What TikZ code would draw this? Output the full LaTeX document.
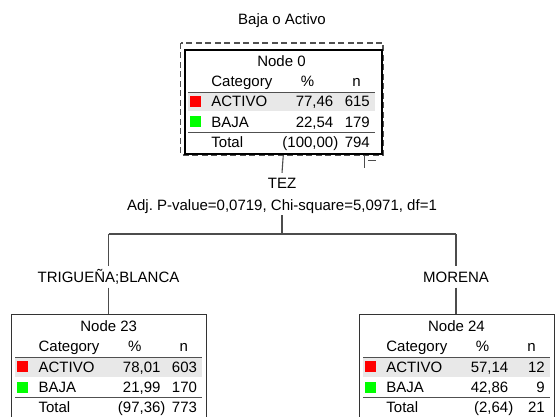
\documentclass[tikz,border=0pt]{standalone}
\usepackage{fontspec}
\setmainfont{Liberation Sans}
\frenchspacing
\definecolor{rowshade}{HTML}{E8E8E8}
\definecolor{catred}{HTML}{FF0000}
\definecolor{catgreen}{HTML}{00FF00}
\definecolor{rulegray}{HTML}{505050}
\definecolor{wiregray}{HTML}{4C4C4C}
\definecolor{boxgray}{HTML}{333333}

\tikzset{
  txt/.style={font=\fontsize{15}{18}\selectfont, inner sep=0pt},
  wire/.style={draw=wiregray, line width=1.1pt},
  caplabel/.style={txt, text height=10.7pt, text depth=0pt, inner ysep=5pt},
  leafbox/.style={draw=boxgray, line width=1pt, minimum width=195pt,
                  minimum height=104pt, inner sep=0pt, anchor=north west},
  rootbox/.style={draw=black, line width=2.5pt, minimum width=197pt,
                  minimum height=104pt, inner sep=0pt, anchor=north west},
}

% Category table drawn inside an already placed box node #1
% #2 title, #3/#4 ACTIVO % and n, #5/#6 BAJA % and n, #7/#8 total % and n
\newcommand\cattable[8]{%
  \begin{scope}[shift={(#1.north west)}]
    \fill[rowshade] (4.5,43) rectangle (191,62.4);
    \draw[rulegray, line width=0.9pt] (4.5,43) -- (191,43);
    \draw[rulegray, line width=0.9pt] (4.5,83.4) -- (191,83.4);
    \fill[catred] (6,47) rectangle (17,58);
    \fill[catgreen] (6,67.5) rectangle (17,78.5);
    \node[txt, anchor=base] (#1-title) at (98,17.1) {#2};
    \node[txt, anchor=base west] (#1-cat) at (27.7,37.1) {Category};
    \node[txt, anchor=base] (#1-pcthead) at (124,37.1) {\%};
    \node[txt, anchor=base] (#1-nhead) at (173,37.1) {n};
    \node[txt, anchor=base west] (#1-a) at (27.7,57.8) {ACTIVO};
    \node[txt, anchor=base east] (#1-apct) at (150,57.8) {#3};
    \node[txt, anchor=base east] (#1-an) at (186.5,57.8) {#4};
    \node[txt, anchor=base west] (#1-b) at (27.7,78.4) {BAJA};
    \node[txt, anchor=base east] (#1-bpct) at (150,78.4) {#5};
    \node[txt, anchor=base east] (#1-bn) at (186.5,78.4) {#6};
    \node[txt, anchor=base west] (#1-t) at (27.7,98.4) {Total};
    \node[txt, anchor=base east] (#1-tpct) at (150,98.4) {(#7\rlap{)}};
    \node[txt, anchor=base east] (#1-tn) at (186.5,98.4) {#8};
  \end{scope}}

\begin{document}
\begin{tikzpicture}[x=1pt, y=-1pt]
  \clip (0,0) rectangle (557,417);
  \fill[white] (0,0) rectangle (557,417);

  % title
  \node[txt, anchor=base] (title) at (282,24.4) {Baja o Activo};

  % root node with its selection frame and collapse toggle
  \draw[rulegray, line width=1.1pt, dash pattern=on 6pt off 3.5pt] (180.5,43) rectangle (383,155);
  \node[rootbox] (n0) at (183.5,49) {};
  \cattable{n0}{Node 0}{77,46}{615}{22,54}{179}{100,00}{794}
  \draw[wiregray, line width=1pt] (364,155) -- (364,168);
  \draw[wiregray, line width=1pt] (368,160.7) -- (376,160.7);

  % split variable and test
  \node[caplabel] (tez) at (282,183.3) {TEZ};
  \node[txt, anchor=base, text height=10.7pt, text depth=3.2pt, inner ysep=1.5pt]
       (adj) at (282,210.4) {Adj.\ P-value=0,0719, Chi-square=5,0971, df=1};

  % branch labels
  \node[caplabel] (lab23) at (108.5,277) {TRIGUEÑA;BLANCA};
  \node[caplabel] (lab24) at (456,277) {MORENA};

  % child nodes
  \node[leafbox] (n23) at (10.7,314.3) {};
  \cattable{n23}{Node 23}{78,01}{603}{21,99}{170}{97,36}{773}
  \node[leafbox] (n24) at (358.5,314.3) {};
  \cattable{n24}{Node 24}{57,14}{12}{42,86}{9}{2,64}{21}

  % connectors
  \coordinate (split) at (282,234);
  \coordinate (b23) at (108.5,234);
  \coordinate (b24) at (456,234);
  \draw[wire] (n0.south) -- (tez.north);
  \draw[wire] (adj.south) -- (split);
  \draw[wire] (b23) -- (b24);
  \draw[wire] (b23) -- (lab23.north);
  \draw[wire] (b24) -- (lab24.north);
  \draw[wire] (lab23.south) -- (lab23.south |- n23.north);
  \draw[wire] (lab24.south) -- (lab24.south |- n24.north);
\end{tikzpicture}
\end{document}
